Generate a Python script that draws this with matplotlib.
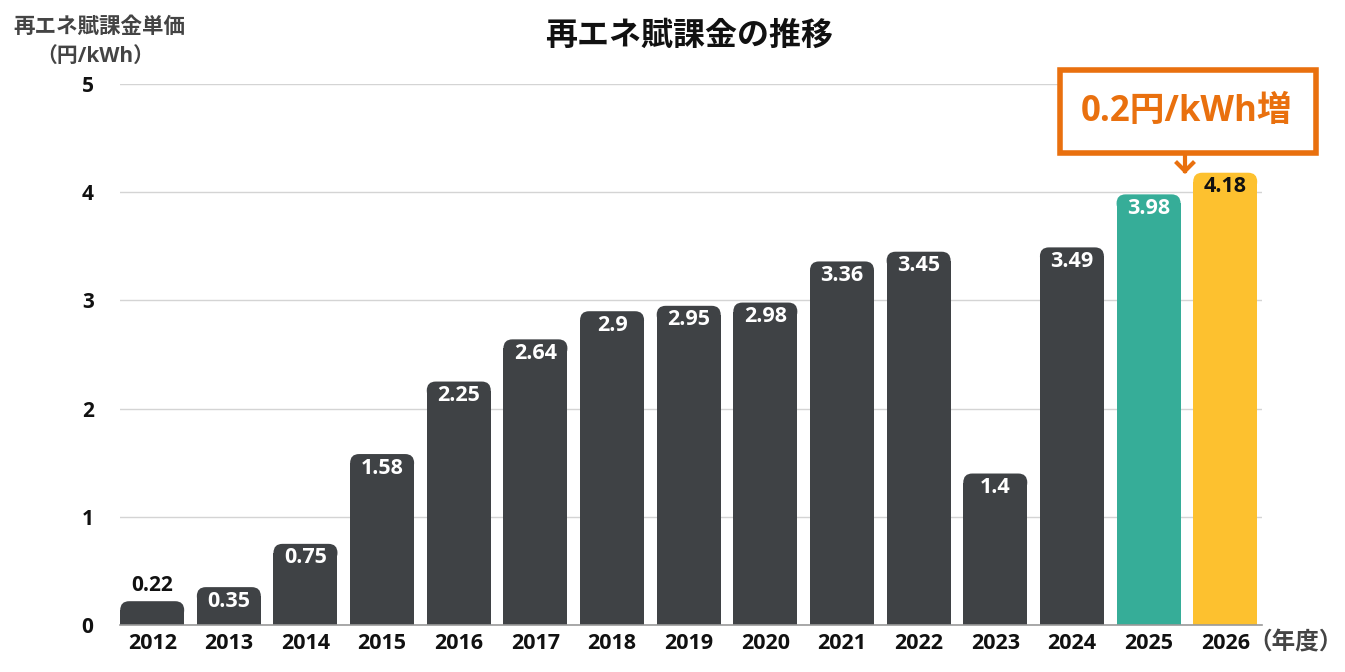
import matplotlib
matplotlib.use("Agg")
import matplotlib.pyplot as plt
from matplotlib.patches import FancyBboxPatch, Rectangle

LAT = ['Open Sans', 'Noto Sans CJK JP', 'DejaVu Sans']
CJK = ['Noto Sans CJK JP', 'DejaVu Sans']
plt.rcParams['font.family'] = LAT

years = ["2012", "2013", "2014", "2015", "2016", "2017", "2018", "2019",
         "2020", "2021", "2022", "2023", "2024", "2025", "2026"]
values = [0.22, 0.35, 0.75, 1.58, 2.25, 2.64, 2.9, 2.95, 2.98, 3.36,
          3.45, 1.4, 3.49, 3.98, 4.18]
labels = ["0.22", "0.35", "0.75", "1.58", "2.25", "2.64", "2.9", "2.95",
          "2.98", "3.36", "3.45", "1.4", "3.49", "3.98", "4.18"]
yticks = [0, 1, 2, 3, 4, 5]

DARK = "#3f4245"
TEAL = "#36ad98"
YELLOW = "#fdc12f"
ORANGE = "#e9700e"
colors = [DARK] * 13 + [TEAL, YELLOW]

W, H = 1345, 672
fig = plt.figure(figsize=(W / 100, H / 100), dpi=100)
ax_l, ax_r, ax_b, ax_t = 120, 1262, 625, 84
ax = fig.add_axes([ax_l / W, 1 - ax_b / H, (ax_r - ax_l) / W, (ax_b - ax_t) / H])

ax.set_xlim(-0.42, 14.48)
ax.set_ylim(0, 5)
bw = 0.835

px_x = (14.48 + 0.42) / (ax_r - ax_l)
px_y = 5 / (ax_b - ax_t)
r_px = 9

for i, v in enumerate(values):
    x0 = i - bw / 2
    rad = r_px * px_y
    ax.bar(i, v - rad, width=bw, color=colors[i], zorder=3, linewidth=0)
    top = FancyBboxPatch((x0, max(v - 2 * rad, 0)), bw, min(2 * rad, v),
                         boxstyle=f"round,pad=0,rounding_size={r_px * px_x}",
                         mutation_aspect=px_y / px_x,
                         facecolor=colors[i], edgecolor='none', zorder=3)
    ax.add_patch(top)

    if v < 0.3:
        ax.annotate(labels[i], (i, v), xytext=(0, 16), textcoords='offset pixels',
                    ha='center', va='center', fontsize=15, fontweight='bold', color='#111111')
    else:
        c = '#111111' if colors[i] == YELLOW else 'white'
        ax.annotate(labels[i], (i, v), xytext=(0, -14), textcoords='offset pixels',
                    ha='center', va='center', fontsize=15.5, fontweight='bold', color=c, zorder=4)

ax.set_yticks(yticks)
ax.set_yticklabels([str(t) for t in yticks], fontsize=15, fontweight='bold')
ax.set_xticks(range(len(years)))
ax.set_xticklabels(years, fontsize=15.5, fontweight='bold')
ax.tick_params(axis='both', length=0, colors='#111111')
ax.tick_params(axis='y', pad=19)
ax.tick_params(axis='x', pad=6)
ax.yaxis.grid(True, color='#d4d4d4', linewidth=1)
ax.set_axisbelow(True)
for s in ['top', 'right', 'left']:
    ax.spines[s].set_visible(False)
ax.spines['bottom'].set_color('#9a9a9a')
ax.spines['bottom'].set_linewidth(1.2)
ax.spines['bottom'].set_zorder(5)

def fx(px):
    return px / W

def fy(py):
    return 1 - py / H

fig.text(fx(689), fy(36), "再エネ賦課金の推移", ha='center', va='center',
         fontsize=23, fontweight='bold', color='#111111', family=CJK)
fig.text(fx(99), fy(26), "再エネ賦課金単価", ha='center', va='center',
         fontsize=15.5, fontweight='bold', color='#444444', family=CJK)
fig.text(fx(95), fy(56), "（円/kWh）", ha='center', va='center',
         fontsize=15, fontweight='bold', color='#444444')
fig.text(fx(1296), fy(642), "（年度）", ha='center', va='center',
         fontsize=17, fontweight='bold', color='#444444', family=CJK)

# annotation box
fig.patches.append(Rectangle((fx(1060), fy(153)), fx(1316 - 1060), (153 - 70) / H,
                             transform=fig.transFigure, facecolor='white',
                             edgecolor=ORANGE, linewidth=4, zorder=10))
fig.text(fx(1187), fy(112), "0.2円/kWh増", ha='center', va='center',
         fontsize=25, fontweight='bold', color=ORANGE, zorder=11)
fig.lines.append(plt.Line2D([fx(1185), fx(1185)], [fy(155), fy(171)],
                            transform=fig.transFigure, color=ORANGE, linewidth=3, zorder=11))
fig.lines.append(plt.Line2D([fx(1177), fx(1185), fx(1193)], [fy(163), fy(171), fy(163)],
                            transform=fig.transFigure, color=ORANGE, linewidth=3,
                            solid_joinstyle='miter', zorder=11))

fig.savefig("out.png", dpi=100)
